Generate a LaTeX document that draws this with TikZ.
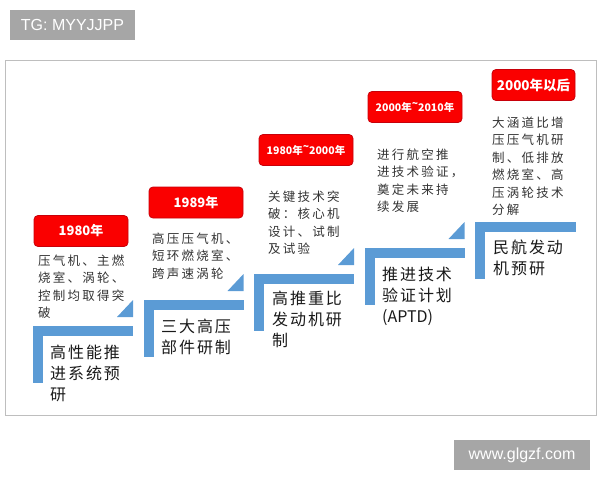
\documentclass[tikz,border=0pt]{standalone}
\usepackage{fontspec}
\setmainfont{Liberation Sans}
\newfontfamily\cjk{Noto Sans CJK SC}
\newfontfamily\notefont[LetterSpace=18]{Noto Sans CJK SC}
\newfontfamily\stagefont[LetterSpace=12]{Noto Sans CJK SC}
\usetikzlibrary{positioning}
\definecolor{stepblue}{RGB}{91,155,213}
\definecolor{yearred}{RGB}{250,0,0}
\definecolor{yearedge}{RGB}{200,0,10}
\definecolor{markgray}{RGB}{166,166,166}
\definecolor{framegray}{RGB}{190,190,190}
\tikzstyle{yearbox} = [fill=yearred, draw=yearedge, line width=0.8pt,
    rounded corners=4pt, text=white, inner sep=0pt,
    minimum width=94pt, minimum height=31pt]
\tikzstyle{notetext} = [anchor=north west, align=left, inner sep=0pt,
    text=black!80, font=\notefont\fontsize{12.5}{17.5}\selectfont]
\tikzstyle{stagetext} = [anchor=north west, align=left, inner sep=0pt,
    text=black!90, font=\stagefont\fontsize{16}{21}\selectfont]
\tikzstyle{stepbar} = [fill=stepblue]
\tikzstyle{watermark} = [fill=markgray, text=white, inner sep=0pt,
    minimum height=30pt, font=\fontsize{16}{16}\selectfont]

\begin{document}
\begin{tikzpicture}[x=1pt, y=-1pt]
\useasboundingbox (0,0) rectangle (600,480);
\node[watermark, minimum width=125pt] (tag) at (72.5,25) {TG: MYYJJPP};
\draw[framegray, line width=0.7pt] (5,60) rectangle (596,415);
\node[watermark, minimum width=136pt] (site) at (522,455) {www.glgzf.com};

% step 1
\fill[stepbar] (33,326) rectangle (133,335.5);
\fill[stepbar] (33,326) rectangle (43,383);
\fill[stepbar] (117,317) -- (133,317) -- (133,300) -- cycle;
\node[yearbox, font=\cjk\bfseries\fontsize{13}{13}\selectfont] (year1) at (81,231) {1980年};
\node[notetext] (note1) at (38,254.5) {压气机、主燃\\烧室、涡轮、\\控制均取得突\\破};
\node[stagetext] (stage1) at (50,345) {高性能推\\进系统预\\研};

% step 2
\fill[stepbar] (143.5,300) rectangle (243.5,309.5);
\fill[stepbar] (143.5,300) rectangle (153.5,357);
\fill[stepbar] (227.5,291) -- (243.5,291) -- (243.5,274) -- cycle;
\node[yearbox, font=\cjk\bfseries\fontsize{13}{13}\selectfont] (year2) at (196,202.5) {1989年};
\node[notetext] (note2) at (152,232.5) {高压压气机、\\短环燃烧室、\\跨声速涡轮};
\node[stagetext] (stage2) at (161,319) {三大高压\\部件研制};

% step 3
\fill[stepbar] (254,274) rectangle (354,283.5);
\fill[stepbar] (254,274) rectangle (264,331);
\fill[stepbar] (338,265) -- (354,265) -- (354,248) -- cycle;
\node[yearbox, font=\cjk\bfseries\fontsize{10.5}{10.5}\selectfont] (year3) at (306,150) {1980年\raisebox{0.35em}{\textasciitilde}2000年};
\node[notetext] (note3) at (268,190.5) {关键技术突\\破：核心机\\设计、试制\\及试验};
\node[stagetext] (stage3) at (272,291) {高推重比\\发动机研\\制};

% step 4
\fill[stepbar] (364.5,248) rectangle (464.5,257.5);
\fill[stepbar] (364.5,248) rectangle (374.5,305);
\fill[stepbar] (448.5,239) -- (464.5,239) -- (464.5,222) -- cycle;
\node[yearbox, font=\cjk\bfseries\fontsize{10.5}{10.5}\selectfont] (year4) at (415,107) {2000年\raisebox{0.35em}{\textasciitilde}2010年};
\node[notetext] (note4) at (377,148.5) {进行航空推\\进技术验证，\\奠定未来持\\续发展};
\node[stagetext] (stage4) at (382,267) {推进技术\\验证计划\\{\cjk(APTD)}};

% step 5
\fill[stepbar] (475,222) rectangle (576,231.5);
\fill[stepbar] (475,222) rectangle (485,279);
\node[yearbox, minimum width=83pt, font=\cjk\bfseries\fontsize{13.5}{13.5}\selectfont] (year5) at (533.5,85) {2000年以后};
\node[notetext] (note5) at (492,116.5) {大涵道比增\\压压气机研\\制、低排放\\燃烧室、高\\压涡轮技术\\分解};
\node[stagetext] (stage5) at (493,240) {民航发动\\机预研};
\end{tikzpicture}
\end{document}
